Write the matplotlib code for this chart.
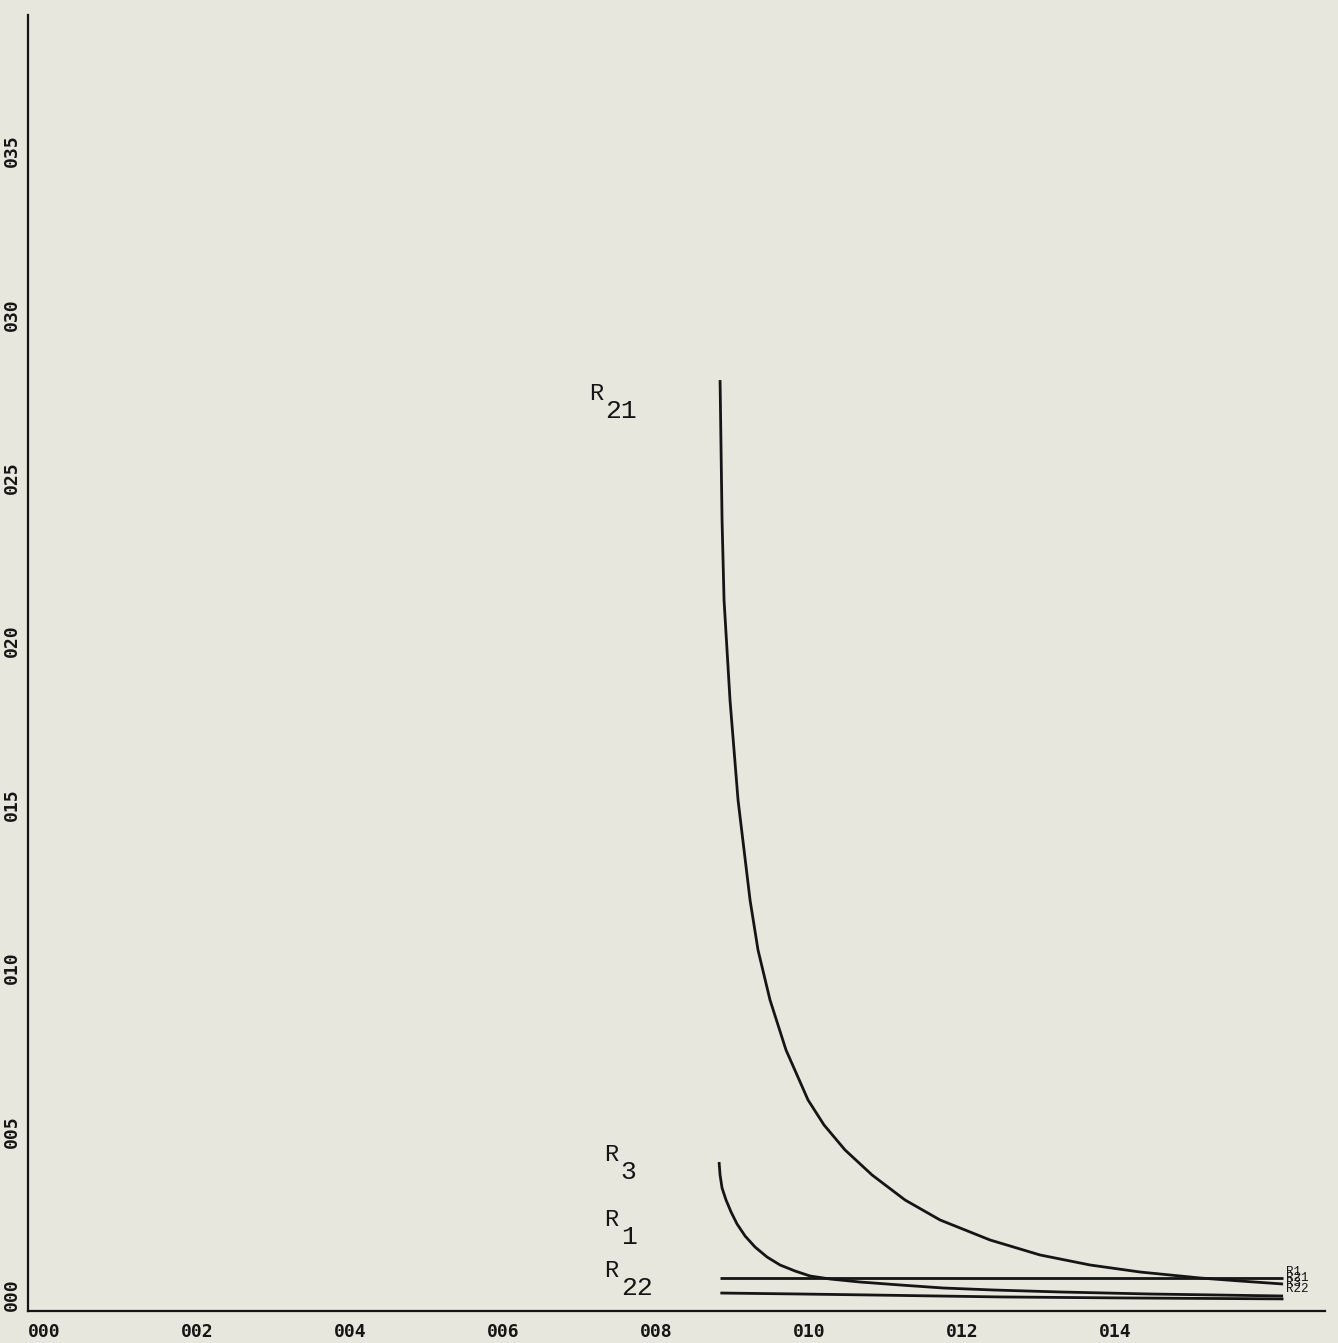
import matplotlib
matplotlib.use("Agg")
import matplotlib.pyplot as plt

# curve readings (x, y in data units)
r21_x = [0.009046, 0.009059, 0.009072, 0.009098, 0.009176, 0.009281, 0.009438, 0.009542,
         0.009699, 0.009908, 0.010196, 0.010405, 0.010680, 0.011033, 0.011464, 0.011922,
         0.012575, 0.013229, 0.013882, 0.014536, 0.015320, 0.015843, 0.016405]
r21_y = [0.028488, 0.026346, 0.024204, 0.021756, 0.018696, 0.015636, 0.012576, 0.011047,
         0.009517, 0.007987, 0.006457, 0.005692, 0.004927, 0.004162, 0.003397, 0.002785,
         0.002173, 0.001714, 0.001408, 0.001193, 0.001010, 0.000918, 0.000826]

r3_x = [0.009033, 0.009046, 0.009072, 0.009124, 0.009190, 0.009268, 0.009373, 0.009503,
        0.009660, 0.009830, 0.010026, 0.010222, 0.010484, 0.010876, 0.011399, 0.011961,
        0.012614, 0.013490, 0.014667, 0.016405]
r3_y = [0.004559, 0.004162, 0.003764, 0.003397, 0.003029, 0.002662, 0.002295, 0.001958,
        0.001652, 0.001408, 0.001224, 0.001071, 0.000979, 0.000887, 0.000796, 0.000704,
        0.000643, 0.000582, 0.000520, 0.000459]

r1_x = [0.00905, 0.01641]
r1_y = [0.00101, 0.00101]

r22_x = [0.00905, 0.01009, 0.01101, 0.01271, 0.01427, 0.01641]
r22_y = [0.00055, 0.00052, 0.00049, 0.00043, 0.00040, 0.00037]

xticks = [0.000, 0.002, 0.004, 0.006, 0.008, 0.010, 0.012, 0.014]
xlabels = ['000', '002', '004', '006', '008', '010', '012', '014']
yticks = [0.000, 0.005, 0.010, 0.015, 0.020, 0.025, 0.030, 0.035]
ylabels = ['000', '005', '010', '015', '020', '025', '030', '035']

# curve labels: subscript, x, y of the "R"
names = ['21', '3', '1', '22']
label_x = [0.00733, 0.00753, 0.00753, 0.00753]
label_y = [0.02772, 0.00444, 0.00244, 0.00090]

bg = '#e7e7dd'
ink = '#151515'
fig = plt.figure(figsize=(13.38, 13.43), dpi=100, facecolor=bg)
ax = fig.add_axes([0.02093, 0.02383, 0.9694, 0.9650])
ax.set_facecolor(bg)

for xs, ys in [(r21_x, r21_y), (r3_x, r3_y), (r1_x, r1_y), (r22_x, r22_y)]:
    ax.plot(xs, ys, color=ink, lw=2.0, solid_capstyle='butt', solid_joinstyle='round')

ax.set_xlim(0, 0.016954)
ax.set_ylim(0, 0.03966)

for sp in ['top', 'right']:
    ax.spines[sp].set_visible(False)
for sp in ['left', 'bottom']:
    ax.spines[sp].set_linewidth(1.6)
    ax.spines[sp].set_color(ink)

ax.set_xticks(xticks)
ax.set_xticklabels(xlabels, ha='left', fontsize=13, fontweight='bold', family='DejaVu Sans Mono')
ax.set_yticks(yticks)
ax.set_yticklabels(ylabels, rotation=90, va='bottom', fontsize=13, fontweight='bold', family='DejaVu Sans Mono')
ax.tick_params(axis='x', length=0, pad=9, colors=ink)
ax.tick_params(axis='y', length=0, pad=5, colors=ink)

mono = 'Liberation Mono'
for n, lx, ly in zip(names, label_x, label_y):
    ax.text(lx, ly, 'R', fontsize=17, family=mono, ha='left', va='bottom', color=ink)
    ax.annotate(n, (lx, ly), xytext=(12, -13), textcoords='offset points',
                fontsize=19, family=mono, ha='left', va='bottom', color=ink)

# small, crowded end labels at the right (they pile up as in the original)
end_n = ['1', '21', '3', '22']
end_dy = [4, 0, -4, -8]
for n, dy in zip(end_n, end_dy):
    ax.annotate('R' + n, (r1_x[-1], r1_y[-1]), xytext=(2, dy - 4), textcoords='offset points',
                fontsize=9, family=mono, ha='left', va='bottom', color=ink)

fig.savefig('out.png', dpi=100, facecolor=bg)
